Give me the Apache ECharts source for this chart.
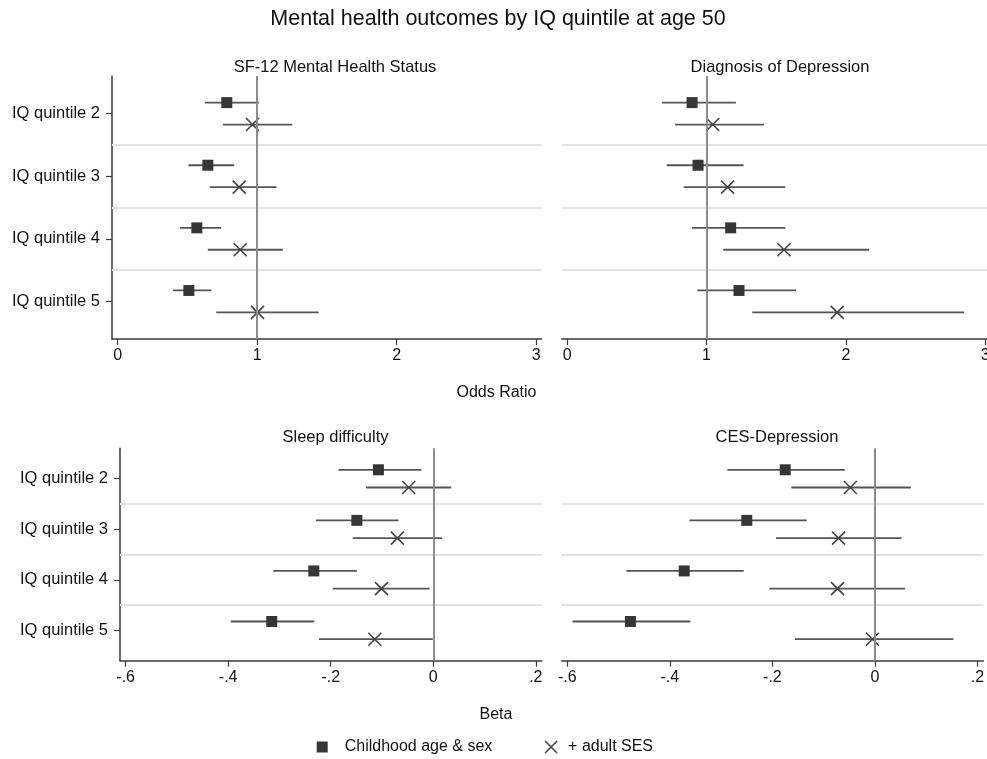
<!DOCTYPE html>
<html><head><meta charset="utf-8">
<script src="https://cdn.jsdelivr.net/npm/echarts@6/dist/echarts.min.js"></script>
<style>html,body{margin:0;padding:0;background:#fff}#c{width:987px;height:759px}</style>
</head><body><div id="c"></div>
<script>
// ---------- data ----------
const quintileLabels = ['IQ quintile 2', 'IQ quintile 3', 'IQ quintile 4', 'IQ quintile 5'];
const quintileValues = [2, 3, 4, 5];
const orTicks = [0, 1, 2, 3];
const betaTicks = [-0.6, -0.4, -0.2, 0, 0.2];
const betaTickLabels = ['-.6', '-.4', '-.2', '0', '.2'];
const panelTitles = ['SF-12 Mental Health Status', 'Diagnosis of Depression', 'Sleep difficulty', 'CES-Depression'];
const seriesNames = ['Childhood age & sex', '+ adult SES'];

// SF-12 Mental Health Status (odds ratio)
const sf12Base   = [0.783, 0.647, 0.568, 0.511];
const sf12BaseLo = [0.625, 0.508, 0.448, 0.398];
const sf12BaseHi = [1.013, 0.836, 0.742, 0.673];
const sf12Adj    = [0.967, 0.872, 0.879, 1.003];
const sf12AdjLo  = [0.755, 0.661, 0.647, 0.707];
const sf12AdjHi  = [1.252, 1.139, 1.185, 1.441];

// Diagnosis of Depression (odds ratio)
const depBase   = [0.896, 0.939, 1.173, 1.233];
const depBaseLo = [0.681, 0.714, 0.896, 0.934];
const depBaseHi = [1.211, 1.266, 1.565, 1.642];
const depAdj    = [1.044, 1.151, 1.556, 1.938];
const depAdjLo  = [0.774, 0.836, 1.120, 1.328];
const depAdjHi  = [1.412, 1.565, 2.167, 2.848];

// Sleep difficulty (beta)
const sleepBase   = [-0.107, -0.149, -0.233, -0.315];
const sleepBaseLo = [-0.185, -0.229, -0.312, -0.395];
const sleepBaseHi = [-0.023, -0.068, -0.149, -0.232];
const sleepAdj    = [-0.048, -0.070, -0.101, -0.114];
const sleepAdjLo  = [-0.131, -0.157, -0.196, -0.223];
const sleepAdjHi  = [0.035, 0.017, -0.007, -0.001];

// CES-Depression (beta)
const cesBase   = [-0.175, -0.250, -0.372, -0.477];
const cesBaseLo = [-0.288, -0.362, -0.485, -0.590];
const cesBaseHi = [-0.059, -0.133, -0.256, -0.360];
const cesAdj    = [-0.048, -0.071, -0.073, -0.005];
const cesAdjLo  = [-0.163, -0.193, -0.206, -0.156];
const cesAdjHi  = [0.070, 0.052, 0.059, 0.153];

// ---------- styling / layout ----------
const FONT = '"Liberation Sans", Arial, Helvetica, sans-serif';
const OFF = 0.175;
const MARK = '#363636';
const BAR = '#555555';
const AXIS = '#3a3a3a';
const CROSS = 'path://M0,0L10,10M0,10L10,0';

const panels = [
  {grid: {left: 112, top: 76, width: 429.7, height: 263}, kind: 'or', ref: 1, showY: true,
   base: sf12Base, baseLo: sf12BaseLo, baseHi: sf12BaseHi, adj: sf12Adj, adjLo: sf12AdjLo, adjHi: sf12AdjHi},
  {grid: {left: 561.7, top: 76, width: 429, height: 263}, kind: 'or', ref: 1, showY: false,
   base: depBase, baseLo: depBaseLo, baseHi: depBaseHi, adj: depAdj, adjLo: depAdjLo, adjHi: depAdjHi},
  {grid: {left: 120, top: 448.3, width: 421.7, height: 212.4}, kind: 'beta', ref: 0, showY: true,
   base: sleepBase, baseLo: sleepBaseLo, baseHi: sleepBaseHi, adj: sleepAdj, adjLo: sleepAdjLo, adjHi: sleepAdjHi},
  {grid: {left: 561.7, top: 448.3, width: 421.7, height: 212.4}, kind: 'beta', ref: 0, showY: false,
   base: cesBase, baseLo: cesBaseLo, baseHi: cesBaseHi, adj: cesAdj, adjLo: cesAdjLo, adjHi: cesAdjHi}
];

const grids = [], xAxes = [], yAxes = [], series = [];

function ciRender(params, api) {
  const y = api.value(0), lo = api.value(1), hi = api.value(2);
  const p1 = api.coord([lo, y]), p2 = api.coord([hi, y]);
  return {type: 'line', shape: {x1: p1[0], y1: p1[1], x2: p2[0], y2: p2[1]},
          style: {stroke: BAR, lineWidth: 1.8}};
}

panels.forEach((p, i) => {
  grids.push(Object.assign({containLabel: false, outerBoundsMode: 'none'}, p.grid));
  const isOR = p.kind === 'or';
  xAxes.push({
    type: 'value', gridIndex: i,
    min: isOR ? -0.04 : -0.611, max: isOR ? 3.04 : 0.2115,
    axisLine: {show: true, onZero: false, lineStyle: {color: AXIS, width: 1.5}},
    axisTick: {show: true, length: 6, customValues: isOR ? orTicks : betaTicks, lineStyle: {color: AXIS, width: 1.2}},
    axisLabel: {show: true, margin: 9, fontSize: 16, color: '#111', fontFamily: FONT,
      hideOverlap: false,
      customValues: isOR ? orTicks : betaTicks,
      formatter: v => {
        if (isOR) return String(Math.round(v));
        const k = betaTicks.findIndex(t => Math.abs(t - v) < 1e-6);
        return k >= 0 ? betaTickLabels[k] : '';
      }},
    splitLine: {show: false}
  });
  yAxes.push({
    type: 'value', gridIndex: i, inverse: true, min: 1.4, max: 5.6,
    axisLine: {show: p.showY, onZero: false, lineStyle: {color: AXIS, width: 1.5}},
    axisTick: {show: p.showY, length: 6, customValues: quintileValues, lineStyle: {color: AXIS, width: 1.2}},
    axisLabel: {show: p.showY, margin: 12, fontSize: 16.5, color: '#111', fontFamily: FONT,
      customValues: quintileValues,
      formatter: v => {
        const k = quintileValues.indexOf(Math.round(v));
        return k >= 0 ? quintileLabels[k] : '';
      }},
    splitLine: {show: false}
  });

  series.push({
    type: 'custom', xAxisIndex: i, yAxisIndex: i, renderItem: ciRender, silent: true, z: 3,
    encode: {x: [1, 2], y: 0},
    data: quintileValues.map((q, k) => [q - OFF, p.baseLo[k], p.baseHi[k]])
  });
  series.push({
    type: 'custom', xAxisIndex: i, yAxisIndex: i, renderItem: ciRender, silent: true, z: 3,
    encode: {x: [1, 2], y: 0},
    data: quintileValues.map((q, k) => [q + OFF, p.adjLo[k], p.adjHi[k]])
  });
  series.push({
    type: 'scatter', name: seriesNames[0], xAxisIndex: i, yAxisIndex: i, z: 4,
    symbol: 'rect', symbolSize: 11,
    itemStyle: {color: MARK, opacity: 1},
    data: quintileValues.map((q, k) => [p.base[k], q - OFF]),
    markLine: {
      silent: true, symbol: 'none', label: {show: false}, animation: false,
      data: [
        {yAxis: 2.5, lineStyle: {color: '#e3e3e3', width: 2, type: 'solid'}},
        {yAxis: 3.5, lineStyle: {color: '#e3e3e3', width: 2, type: 'solid'}},
        {yAxis: 4.5, lineStyle: {color: '#e3e3e3', width: 2, type: 'solid'}},
        {xAxis: p.ref, lineStyle: {color: '#8c8c8c', width: 2, type: 'solid'}}
      ]
    }
  });
  series.push({
    type: 'scatter', name: seriesNames[1], xAxisIndex: i, yAxisIndex: i, z: 4,
    symbol: CROSS, symbolSize: 13,
    itemStyle: {color: 'rgba(0,0,0,0)', borderColor: '#444', borderWidth: 1.6, opacity: 1},
    data: quintileValues.map((q, k) => [p.adj[k], q + OFF])
  });
});

const titleStyle = {fontSize: 16.5, fontWeight: 'normal', color: '#111', fontFamily: FONT};
const axisNameStyle = {fontSize: 16, fontWeight: 'normal', color: '#111', fontFamily: FONT};
const option = {
  animation: false,
  backgroundColor: '#fff',
  title: [
    {text: 'Mental health outcomes by IQ quintile at age 50', left: 493, top: 3, textAlign: 'center',
     textStyle: {fontSize: 21.5, fontWeight: 'normal', color: '#111', fontFamily: FONT}},
    {text: panelTitles[0], left: 330, top: 54, textAlign: 'center', textStyle: titleStyle},
    {text: panelTitles[1], left: 775, top: 54, textAlign: 'center', textStyle: titleStyle},
    {text: panelTitles[2], left: 330.5, top: 424, textAlign: 'center', textStyle: titleStyle},
    {text: panelTitles[3], left: 772, top: 424, textAlign: 'center', textStyle: titleStyle},
    {text: 'Odds Ratio', left: 491.5, top: 380, textAlign: 'center', textStyle: axisNameStyle},
    {text: 'Beta', left: 491, top: 702, textAlign: 'center', textStyle: axisNameStyle}
  ],
  legend: [
    {data: [{name: seriesNames[0], icon: 'rect'}], left: 311.7, top: 734, itemWidth: 11, itemHeight: 11,
     textStyle: {fontSize: 16, color: '#111', fontFamily: FONT, padding: [0, 0, 0, 12]}, selectedMode: false},
    {data: [{name: seriesNames[1], icon: CROSS}], left: 539.3, top: 734, itemWidth: 12, itemHeight: 12,
     itemStyle: {color: 'rgba(0,0,0,0)', borderColor: '#444', borderWidth: 1.6},
     textStyle: {fontSize: 16, color: '#111', fontFamily: FONT, padding: [0, 0, 0, 6]}, selectedMode: false}
  ],
  grid: grids,
  xAxis: xAxes,
  yAxis: yAxes,
  series: series
};
const chart = echarts.init(document.getElementById('c'), null, {renderer: 'canvas'});
chart.setOption(option);
</script>
</body></html>
